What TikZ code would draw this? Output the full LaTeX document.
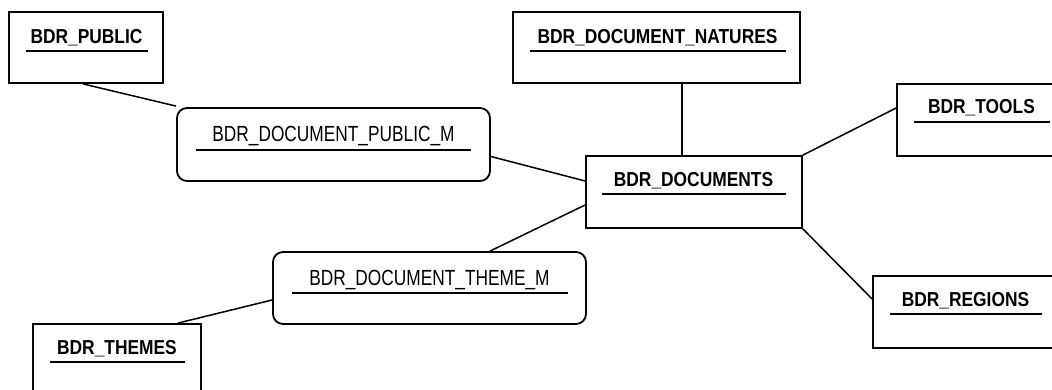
\documentclass[tikz,border=0pt]{standalone}
\usepackage{fontspec}
\usetikzlibrary{calc}
\newfontfamily\entfont[FakeStretch=0.86]{Liberation Sans Bold}
\newfontfamily\relfont[FakeStretch=0.79]{Liberation Sans}
\tikzset{
  box/.style={draw=black, line width=1.8pt, fill=white, inner sep=0pt},
  entity/.style={box},
  relation/.style={box, rounded corners=10pt},
  entname/.style={anchor=base, inner sep=0pt, font=\entfont\fontsize{20.2}{22}\selectfont},
  relname/.style={anchor=base, inner sep=0pt, font=\relfont\fontsize{21.9}{24}\selectfont},
  uline/.style={line width=2pt},
  link/.style={line width=1.5pt}
}
% place a box from its corners: x1,y1,x2,y2 (y grows downward)
\newcommand{\erbox}[6]{%
  \node[#1, minimum width={#5-#3}, minimum height={#6-#4}] (#2) at ({(#3+#5)/2},{(#4+#6)/2}) {};}
\begin{document}
\begin{tikzpicture}[x=1pt,y=-1pt]
\useasboundingbox (0,0) rectangle (1052,390);
\clip (0,0) rectangle (1052,390);
\fill[white] (0,0) rectangle (1052,390);

% connectors first, boxes drawn on top
\erbox{entity}{pub}{9}{12}{163}{83}
\erbox{entity}{nat}{513}{12}{800}{83}
\erbox{relation}{pubm}{177}{108}{490}{181}
\erbox{entity}{docs}{586}{156}{802}{228}
\erbox{entity}{tools}{897}{84}{1065}{156}
\erbox{entity}{regions}{873}{276}{1058}{348}
\erbox{relation}{themem}{273}{252}{586}{324}
\erbox{entity}{themes}{33}{324}{201}{396}

\begin{scope}[link]
\draw ($(pub.south)+(-3,0)$) -- ($(pubm.north west)+(0,-1)$);
\draw ($(pubm.east)+(0,12)$) -- ($(docs.west)+(0,-11)$);
\draw ($(themem.north)+(60.5,0)$) -- ($(docs.west)+(0,13)$);
\draw ($(themes.north east)+(-24,0)$) -- ($(themem.west)+(0,12)$);
\draw ($(nat.south)+(25.5,0)$) -- ($(docs.north)+(-12,0)$);
\draw (docs.north east) -- ($(tools.west)+(0,-12)$);
\draw (docs.south east) -- ($(regions.west)+(0,-13)$);
\end{scope}

% titles with their underlines
\node[entname] (pubt) at (86.5,43.5) {BDR\_PUBLIC};
\draw[uline] (26,51) -- (148,51);
\node[entname] (natt) at (657.5,43.5) {BDR\_DOCUMENT\_NATURES};
\draw[uline] (530,51) -- (786,51);
\node[relname] (pubmt) at (333.5,141.7) {BDR\_DOCUMENT\_PUBLIC\_M};
\draw[uline] (196,150) -- (471,150);
\node[entname] (docst) at (693.5,187) {BDR\_DOCUMENTS};
\draw[uline] (602,194) -- (786,194);
\node[entname] (toolst) at (981.5,113.5) {BDR\_TOOLS};
\draw[uline] (914,122) -- (1050,122);
\node[entname] (regionst) at (965.5,306.5) {BDR\_REGIONS};
\draw[uline] (890,314) -- (1042,314);
\node[relname] (thememe) at (429.5,285.5) {BDR\_DOCUMENT\_THEME\_M};
\draw[uline] (292,293) -- (568,293);
\node[entname] (themest) at (117,354.5) {BDR\_THEMES};
\draw[uline] (50,362) -- (185,362);
\end{tikzpicture}
\end{document}
